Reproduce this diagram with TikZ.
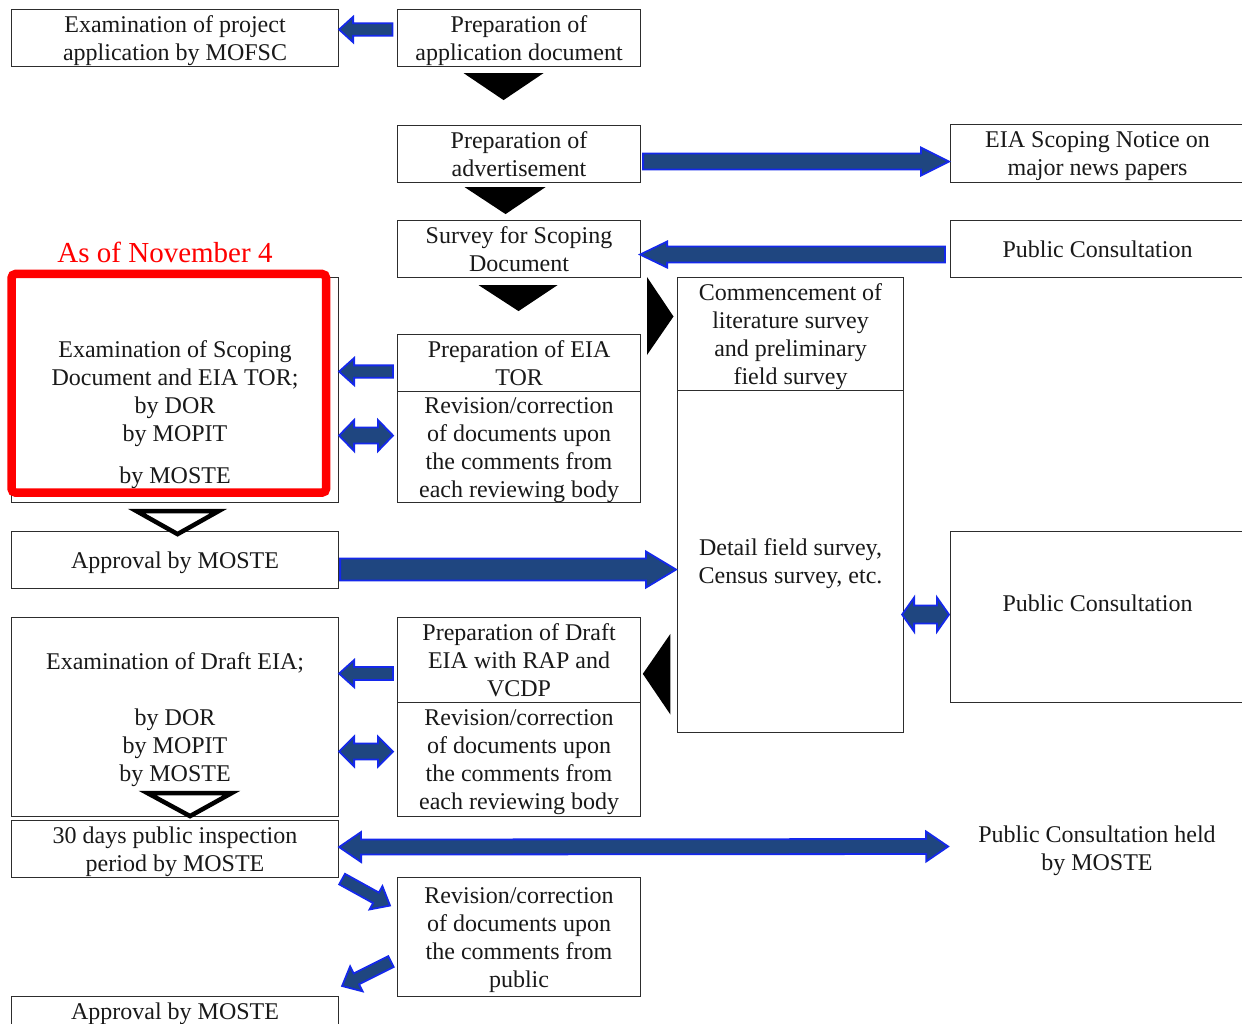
\documentclass[tikz,border=0pt]{standalone}
\usepackage{fontspec}
\setmainfont{Liberation Serif}
\usetikzlibrary{calc}

\definecolor{arrowfill}{RGB}{31,70,128}
\definecolor{arrowedge}{RGB}{20,40,235}
\definecolor{boxline}{RGB}{45,45,45}
\definecolor{txtcol}{RGB}{25,25,25}
\newcommand\boxfont{\fontsize{24}{28}\selectfont}
% full ascender room on the first line of a text block
\newcommand\lnstrut{\rule{0pt}{21.5pt}}

% Block arrow from #1 (tail) to #2 (tip): shaft half width #3,
% head half width #4, head length #5
\newcommand\blockarrow[5]{%
  \coordinate (ba-c) at ($(#2)!#5!(#1)$);
  \filldraw[bluearrow] ($(#1)!#3!90:(#2)$) -- ($(ba-c)!#3!-90:(#1)$)
    -- ($(ba-c)!#4!-90:(#1)$) -- (#2) -- ($(ba-c)!#4!90:(#1)$)
    -- ($(ba-c)!#3!90:(#1)$) -- ($(#1)!#3!-90:(#2)$) -- cycle;}
% Block arrow with a head at both ends
\newcommand\blocktwin[5]{%
  \coordinate (ba-c1) at ($(#1)!#5!(#2)$);
  \coordinate (ba-c2) at ($(#2)!#5!(#1)$);
  \filldraw[bluearrow] (#1) -- ($(ba-c1)!#4!90:(#2)$) -- ($(ba-c1)!#3!90:(#2)$)
    -- ($(ba-c2)!#3!-90:(#1)$) -- ($(ba-c2)!#4!-90:(#1)$) -- (#2)
    -- ($(ba-c2)!#4!90:(#1)$) -- ($(ba-c2)!#3!90:(#1)$)
    -- ($(ba-c1)!#3!-90:(#2)$) -- ($(ba-c1)!#4!-90:(#2)$) -- cycle;}

\tikzset{
  % full descender room below the last line
  struts/.style={execute at end node={\rule[-5.2pt]{0pt}{0pt}}},
  box/.style 2 args={draw=boxline, line width=1.1pt, anchor=north west,
    minimum width=#1, minimum height=#2, inner sep=0pt, align=center,
    font=\boxfont, text=txtcol, struts},
  txt/.style={inner sep=0pt, align=center, font=\boxfont, text=txtcol, struts},
  bluearrow/.style={fill=arrowfill, draw=arrowedge, line width=1.8pt, line join=miter},
  solidtri/.style={fill=black},
  hollowtri/.style={draw=black, fill=white, line width=4.5pt, line join=miter},
}

\begin{document}
\begin{tikzpicture}[x=1pt,y=-1pt]
\useasboundingbox (0,0) rectangle (1242,1024);
\fill[white] (0,0) rectangle (1242,1024);

% ---- boxes ----
\node[box={327pt}{57pt}] (b1) at (11,9) {\lnstrut Examination of project\\application by MOFSC};
\node[box={243pt}{57pt}] (b2) at (397,9) {\lnstrut Preparation of\\application document};
\node[box={243pt}{57pt}] (b3) at (397,125) {\lnstrut Preparation of\\advertisement};
\node[box={294pt}{58pt}] (b4) at (950,124) {\lnstrut EIA Scoping Notice on\\major news papers};
\node[box={243pt}{57pt}] (b5) at (397,220) {\lnstrut Survey for Scoping\\Document};
\node[box={294pt}{57pt}] (b6) at (950,220) {\lnstrut Public Consultation};
\node[box={327pt}{225pt}] (b7) at (11,277) {};
\node[txt] (t7) at ($(b7.center)+(0,22.5)$) {\lnstrut Examination of Scoping\\Document and EIA TOR;\\by DOR\\by MOPIT\\[14pt]by MOSTE};
\node[box={243pt}{57pt}] (b8) at (397,334) {\lnstrut Preparation of EIA\\TOR};
\node[box={243pt}{111pt}] (b9) at (397,391) {\lnstrut Revision/correction\\of documents upon\\the comments from\\each reviewing body};
\node[box={226pt}{113pt}] (b10) at (677,277) {\lnstrut Commencement of\\literature survey\\and preliminary\\field survey};
\node[box={226pt}{342pt}] (b11) at (677,390) {\lnstrut Detail field survey,\\Census survey, etc.};
\node[box={327pt}{57pt}] (b12) at (11,531) {\lnstrut Approval by MOSTE};
\node[box={294pt}{171pt}] (b13) at (950,531) {};
\node[txt] (t13) at ($(b13.center)+(0,-13.5)$) {\lnstrut Public Consultation};
\node[box={327pt}{199pt}] (b14) at (11,617) {\lnstrut Examination of Draft EIA;\\[28pt]by DOR\\by MOPIT\\by MOSTE};
\node[box={243pt}{85pt}] (b15) at (397,617) {\lnstrut Preparation of Draft\\EIA with RAP and\\VCDP};
\node[box={243pt}{114pt}] (b16) at (397,702) {\lnstrut Revision/correction\\of documents upon\\the comments from\\each reviewing body};
\node[box={327pt}{57pt}] (b17) at (11,820) {\lnstrut 30 days public inspection\\period by MOSTE};
\node[txt] (b18) at (1097,848) {\lnstrut Public Consultation held\\by MOSTE};
\node[box={243pt}{119pt}] (b19) at (397,877) {\lnstrut Revision/correction\\of documents upon\\the comments from\\public};
\node[box={327pt}{30pt}] (b20) at (11,996) {\lnstrut Approval by MOSTE};

% ---- highlight of the current stage ----
\node[inner sep=0pt, text=red, font=\fontsize{29}{34}\selectfont] (asof) at (165,252) {As of November 4};
\draw[red, line width=8.5pt, rounded corners=4pt]
  ($(b7.north west)+(0.5,-3)$) rectangle ($(b7.south east)+(-13,-10.5)$);

% ---- flow triangles ----
\fill[solidtri] ($(b2.south)+(-55.5,6)$) -- ($(b2.south)+(24.5,6)$) -- ($(b2.south)+(-15.5,33)$) -- cycle;
\fill[solidtri] ($(b3.south)+(-54.5,4)$) -- ($(b3.south)+(26.5,4)$) -- ($(b3.south)+(-13.5,31)$) -- cycle;
\fill[solidtri] ($(b5.south)+(-40.5,7)$) -- ($(b5.south)+(38.5,7)$) -- ($(b5.south)+(-0.5,33)$) -- cycle;
\fill[solidtri] ($(b10.north west)+(-30,0)$) -- ($(b10.north west)+(-30,78)$) -- ($(b10.north west)+(-3.5,39.5)$) -- cycle;
\fill[solidtri] ($(b15.east)+(29.3,-26.2)$) -- ($(b15.east)+(29.3,54.5)$) -- ($(b15.east)+(1.7,13.8)$) -- cycle;
\draw[hollowtri] ($(b7.south)+(-38.5,8)$) -- ($(b7.south)+(43.5,8)$) -- ($(b7.south)+(2.5,31)$) -- cycle;
\draw[hollowtri] ($(b14.south)+(-27.5,-24)$) -- ($(b14.south)+(56.5,-24)$) -- ($(b14.south)+(15,-1)$) -- cycle;

% ---- arrow end points ----
\coordinate (a1s) at ($(b2.west)+(-4.5,-8.5)$);
\coordinate (a1e) at ($(b1.east)+(0,-8.5)$);
\coordinate (a2s) at ($(b3.east)+(2,7.5)$);
\coordinate (a2e) at ($(b4.west)+(-1,8)$);
\coordinate (a3s) at ($(b6.west)+(-5,5.5)$);
\coordinate (a3e) at ($(b5.east)+(-1,5.5)$);
\coordinate (a4s) at ($(b8.west)+(-4,8.5)$);
\coordinate (a4e) at ($(b7.east)+(0,-18.5)$);
\coordinate (a5s) at ($(b9.west)+(-4,-11.5)$);
\coordinate (a5e) at ($(b7.east)+(0,45.5)$);
\coordinate (a6s) at ($(b12.east)+(1,9.5)$);
\coordinate (a6e) at ($(b11.west)+(-1,8)$);
\coordinate (a7s) at ($(b11.east)+(-2,53)$);
\coordinate (a7e) at ($(b13.west)+(-1,-2.5)$);
\coordinate (a8s) at ($(b15.west)+(-4,13.5)$);
\coordinate (a8e) at ($(b14.east)+(0,-43.5)$);
\coordinate (a9s) at ($(b16.west)+(-4,-8)$);
\coordinate (a9e) at ($(b14.east)+(0,34.5)$);
\coordinate (a10s) at ($(b17.east)+(0,-2)$);
\coordinate (a10e) at ($(b18.west)+(-30,-1.5)$);
\coordinate (a11s) at ($(b17.south east)+(3,1)$);
\coordinate (a11e) at ($(b19.west)+(-7,-31.5)$);
\coordinate (a12s) at ($(b19.west)+(-6,24.5)$);
\coordinate (a12e) at ($(b20.north east)+(3,-10)$);

% ---- block arrows ----
\blockarrow{a1s}{a1e}{6.2pt}{12.7pt}{14pt}
\blockarrow{a2s}{a2e}{8pt}{14pt}{28pt}
\blockarrow{a3s}{a3e}{8pt}{13pt}{27pt}
\blockarrow{a4s}{a4e}{6.2pt}{13.5pt}{15pt}
\blocktwin{a5s}{a5e}{8pt}{15.5pt}{15pt}
\blockarrow{a6s}{a6e}{11pt}{18pt}{30pt}
\blocktwin{a7s}{a7e}{9pt}{17pt}{12pt}
\blockarrow{a8s}{a8e}{6.5pt}{13.5pt}{15pt}
\blocktwin{a9s}{a9e}{8pt}{15pt}{15pt}
\blocktwin{a10s}{a10e}{7.5pt}{15pt}{22pt}
\blockarrow{a11s}{a11e}{6pt}{13.3pt}{16pt}
\blockarrow{a12s}{a12e}{6pt}{14pt}{16pt}
\end{tikzpicture}
\end{document}
